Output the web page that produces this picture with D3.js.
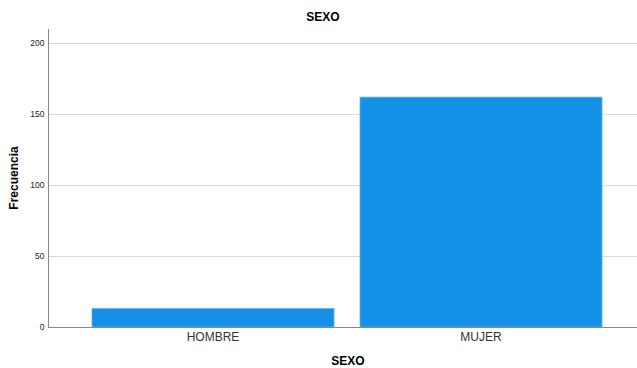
<!DOCTYPE html>
<html lang="en">
<head>
<meta charset="UTF-8">
<title>SEXO</title>
<script src="https://d3js.org/d3.v7.min.js"></script>
<style>
    body { margin: 0; background: #fff; font-family: Arial, "Liberation Sans", sans-serif; }
    .title, .axis-label { font-size: 12px; font-weight: bold; fill: #000; }
    .grid line { stroke: #d9d9d9; }
    .bar { fill: #1490e6; stroke: #5eb2ee; stroke-width: 0.8; }
</style>
</head>
<body>
<svg id="chart" width="637" height="368"></svg>
<script>
    // chart data
    const categories = ["HOMBRE", "MUJER"];
    const counts = [13, 162];
    const yTicks = [0, 50, 100, 150, 200];

    const width = 637, height = 368;
    const plot = { left: 48, right: 637, top: 29, bottom: 327 };

    const svg = d3.select("#chart");

    const y = d3.scaleLinear()
        .domain([0, 210])
        .range([plot.bottom, plot.top]);

    const x = d3.scaleBand()
        .domain(categories)
        .range([79, 615])
        .paddingInner(0.097)
        .paddingOuter(0.0485);

    // gridlines
    svg.append("g")
        .attr("class", "grid")
        .selectAll("line")
        .data(yTicks.filter(d => d > 0))
        .join("line")
        .attr("x1", plot.left)
        .attr("x2", plot.right)
        .attr("y1", d => Math.round(y(d)) + 0.5)
        .attr("y2", d => Math.round(y(d)) + 0.5);

    // bars
    svg.selectAll(".bar")
        .data(categories.map((c, i) => ({ cat: c, v: counts[i] })))
        .join("rect")
        .attr("class", "bar")
        .attr("x", d => x(d.cat))
        .attr("width", x.bandwidth())
        .attr("y", d => y(d.v))
        .attr("height", d => y(0) - y(d.v));

    // y axis
    const yAxis = svg.append("g")
        .attr("transform", `translate(${plot.left + 0.5},0)`)
        .call(d3.axisLeft(y).tickValues(yTicks).tickSize(0).tickPadding(4));
    yAxis.select(".domain").attr("stroke", "#888").attr("d", `M0,${plot.top}V${plot.bottom}`);
    yAxis.selectAll("text").attr("font-size", 8.5).attr("fill", "#222")
        .attr("font-family", "Arial, 'Liberation Sans', sans-serif");

    // x axis
    const xAxis = svg.append("g")
        .attr("transform", `translate(0,${plot.bottom + 0.5})`)
        .call(d3.axisBottom(x).tickSize(0).tickPadding(5));
    xAxis.select(".domain").attr("stroke", "#888").attr("d", `M${plot.left},0H${plot.right}`);
    xAxis.selectAll("text").attr("font-size", 12).attr("fill", "#333")
        .attr("font-family", "Arial, 'Liberation Sans', sans-serif");

    // title and axis labels
    svg.append("text")
        .attr("class", "title")
        .attr("x", 323)
        .attr("y", 21)
        .attr("text-anchor", "middle")
        .text("SEXO");

    svg.append("text")
        .attr("class", "axis-label")
        .attr("x", 348)
        .attr("y", 365)
        .attr("text-anchor", "middle")
        .text("SEXO");

    svg.append("text")
        .attr("class", "axis-label")
        .attr("transform", "rotate(-90)")
        .attr("x", -178)
        .attr("y", 18)
        .attr("text-anchor", "middle")
        .text("Frecuencia");
</script>
</body>
</html>
